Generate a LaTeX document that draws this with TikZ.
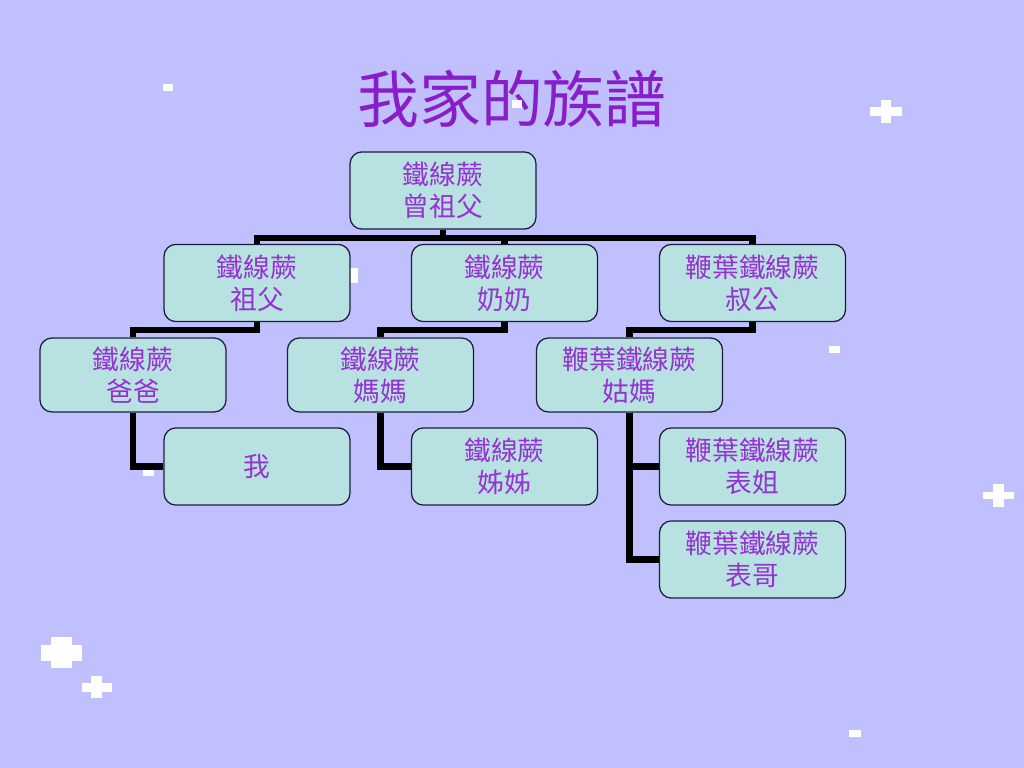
\documentclass[tikz,border=0pt]{standalone}
\usepackage{fontspec}
\newfontfamily\cjk{Noto Sans CJK TC}
\usepackage{tikz}
\usetikzlibrary{positioning}
\definecolor{bgLav}{RGB}{192,192,255}
\definecolor{boxTeal}{RGB}{184,226,226}
\definecolor{boxEdge}{RGB}{28,28,60}
\definecolor{textPurple}{RGB}{150,50,210}
\definecolor{titlePurple}{RGB}{136,30,200}
\tikzset{
  famNode/.style={draw=boxEdge, line width=0.9pt, rounded corners=0.3cm, fill=boxTeal, align=center, text=textPurple, font=\cjk\fontsize{19}{23}\selectfont, inner sep=2pt, minimum width=4.65cm, minimum height=1.93cm},
  famRowNode/.style={famNode, minimum height=1.85cm},
  famLink/.style={line width=4.6pt, black, line join=miter},
  famTitle/.style={text=titlePurple, font=\cjk\fontsize{44}{50}\selectfont, inner sep=0pt},
  starMark/.style={fill=white, draw=none}
}
\begin{document}
\begin{tikzpicture}[x=0.025cm, y=-0.025cm]
  \fill[bgLav] (0,0) rectangle (1024,768);
  \fill[starMark] (163,84) rectangle (173,91);
  \fill[starMark] (870,107) rectangle (902,116);
  \fill[starMark] (881,100) rectangle (891,123);
  \fill[starMark] (350,268) rectangle (358,283);
  \fill[starMark] (143,469) rectangle (154,476);
  \fill[starMark] (829,346) rectangle (840,353);
  \fill[starMark] (983,492) rectangle (1014,499);
  \fill[starMark] (993,484) rectangle (1004,507);
  \fill[starMark] (41,645) rectangle (82,661);
  \fill[starMark] (51,637) rectangle (72,668);
  \fill[starMark] (82,683) rectangle (112,692);
  \fill[starMark] (91,676) rectangle (102,698);
  \fill[starMark] (849,730) rectangle (861,737);
  \node[famTitle] (title) at (512,99) {我家的族譜};
  \fill[starMark] (512,100) rectangle (522,108);
  \node[famNode] (greatgf) at (443,190.5) {鐵線蕨\\曾祖父};
  \node[famNode] (grandpa) at (257,283) {鐵線蕨\\祖父};
  \node[famNode] (grandma) at (504.5,283) {鐵線蕨\\奶奶};
  \node[famNode] (granduncle) at (752.5,283) {鞭葉鐵線蕨\\叔公};
  \node[famRowNode] (dad) at (133,375) {鐵線蕨\\爸爸};
  \node[famRowNode] (mom) at (380.5,375) {鐵線蕨\\媽媽};
  \node[famRowNode] (aunt) at (629.5,375) {鞭葉鐵線蕨\\姑媽};
  \node[famNode] (me) at (257,466.5) {我};
  \node[famNode] (sister) at (504.5,466.5) {鐵線蕨\\姊姊};
  \node[famNode] (cousinf) at (752.5,466.5) {鞭葉鐵線蕨\\表姐};
  \node[famNode] (cousinm) at (752.5,559.5) {鞭葉鐵線蕨\\表哥};
  \draw[famLink] (greatgf.south) -- ++(0,8) -| (grandpa.north);
  \draw[famLink] (greatgf.south) -- ++(0,8) -| (grandma.north);
  \draw[famLink] (greatgf.south) -- ++(0,8) -| (granduncle.north);
  \draw[famLink] (grandpa.south) -- ++(0,8) -| (dad.north);
  \draw[famLink] (grandma.south) -- ++(0,8) -| (mom.north);
  \draw[famLink] (granduncle.south) -- ++(0,8) -| (aunt.north);
  \draw[famLink] (dad.south) |- (me.west);
  \draw[famLink] (mom.south) |- (sister.west);
  \draw[famLink] (aunt.south) |- (cousinf.west);
  \draw[famLink] (aunt.south) |- (cousinm.west);
\end{tikzpicture}
\end{document}
